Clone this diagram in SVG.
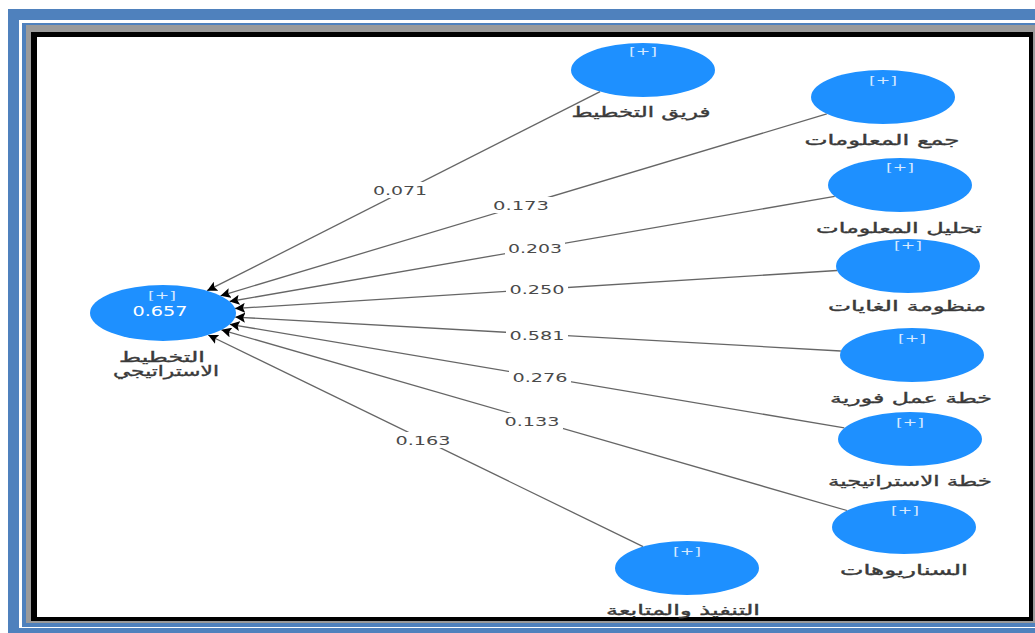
<svg xmlns="http://www.w3.org/2000/svg" width="1035" height="633" viewBox="0 0 1035 633">
<style>
.node{fill:#1e90ff}
.plus{font-family:"DejaVu Sans",sans-serif;font-size:11px;fill:#d6eaff;text-anchor:middle}
.lab{font-family:"DejaVu Sans",sans-serif;font-size:14px;fill:#3a3a3a;stroke:#3a3a3a;stroke-width:0.35;text-anchor:middle}
.val{font-family:"DejaVu Sans",sans-serif;font-size:13px;fill:#4a4a4a;text-anchor:middle}
.edge{stroke:#666;stroke-width:1.3;fill:none;marker-end:url(#arr)}
.bg{fill:#fff}
</style>
<defs>
<marker id="arr" markerUnits="userSpaceOnUse" markerWidth="12" markerHeight="10" refX="10" refY="5" orient="auto">
<path d="M0,0 L10,5 L0,10 L2,5 Z" fill="#000"/>
</marker>
</defs>
<g id="frame">
<rect x="8" y="9" width="1040" height="640" fill="#4f81bd"/>
<rect x="19" y="20" width="1030" height="608" fill="#fff"/>
<rect x="22" y="23" width="1030" height="604" fill="#4f81bd"/>
<rect x="26" y="25" width="1030" height="598" fill="#9a9a9a"/>
<rect x="31" y="32" width="1002" height="589" fill="#000"/>
<rect x="37" y="37" width="992" height="580" fill="#fff"/>
</g>
<g id="connectors">
<line class="edge" x1="600.1" y1="91.7" x2="207.1" y2="290.7"/>
<line class="edge" x1="826.8" y1="113.9" x2="220.5" y2="295.8"/>
<line class="edge" x1="834.7" y1="196.4" x2="229.5" y2="301.5"/>
<line class="edge" x1="837.0" y1="270.5" x2="235.0" y2="308.5"/>
<line class="edge" x1="840.8" y1="351.0" x2="235.2" y2="317.1"/>
<line class="edge" x1="844.3" y1="427.9" x2="229.8" y2="324.3"/>
<line class="edge" x1="847.0" y1="510.5" x2="221.3" y2="329.8"/>
<line class="edge" x1="643.1" y1="546.6" x2="208.2" y2="335.0"/>
<rect class="bg" x="371" y="182" width="60" height="16"/>
<text class="val" x="400" y="195" textLength="54" lengthAdjust="spacingAndGlyphs">0.071</text>
<rect class="bg" x="491" y="197" width="61" height="16"/>
<text class="val" x="521" y="210" textLength="56" lengthAdjust="spacingAndGlyphs">0.173</text>
<rect class="bg" x="505" y="240" width="60" height="16"/>
<text class="val" x="535" y="253" textLength="54" lengthAdjust="spacingAndGlyphs">0.203</text>
<rect class="bg" x="506" y="281" width="62" height="16"/>
<text class="val" x="537" y="294" textLength="55" lengthAdjust="spacingAndGlyphs">0.250</text>
<rect class="bg" x="506" y="327" width="62" height="16"/>
<text class="val" x="537" y="340" textLength="55" lengthAdjust="spacingAndGlyphs">0.581</text>
<rect class="bg" x="509" y="369" width="62" height="16"/>
<text class="val" x="540" y="382" textLength="55" lengthAdjust="spacingAndGlyphs">0.276</text>
<rect class="bg" x="501" y="413" width="62" height="16"/>
<text class="val" x="532" y="426" textLength="55" lengthAdjust="spacingAndGlyphs">0.133</text>
<rect class="bg" x="392" y="432" width="62" height="16"/>
<text class="val" x="423" y="445" textLength="55" lengthAdjust="spacingAndGlyphs">0.163</text>
</g>
<g id="n-main">
<ellipse class="node" cx="163" cy="313" rx="73" ry="28"/>
<text class="plus" x="162" y="299" textLength="28" lengthAdjust="spacingAndGlyphs">[+]</text>
<text x="160" y="316" font-family="DejaVu Sans,sans-serif" font-size="14" fill="#fff" text-anchor="middle" textLength="55" lengthAdjust="spacingAndGlyphs">0.657</text>
<text class="lab" x="162" y="362" textLength="86" lengthAdjust="spacingAndGlyphs">التخطيط</text>
<text class="lab" x="166" y="376" textLength="106" lengthAdjust="spacingAndGlyphs">الاستراتيجي</text>
</g>
<g id="n1">
<ellipse class="node" cx="643" cy="70" rx="72" ry="27"/>
<text class="plus" x="643" y="55" textLength="28" lengthAdjust="spacingAndGlyphs">[+]</text>
<text class="lab" x="641" y="117" textLength="139" lengthAdjust="spacingAndGlyphs">فريق التخطيط</text>
</g>
<g id="n2">
<ellipse class="node" cx="883" cy="97" rx="72" ry="27"/>
<text class="plus" x="883" y="84" textLength="28" lengthAdjust="spacingAndGlyphs">[+]</text>
<text class="lab" x="882" y="145" textLength="155" lengthAdjust="spacingAndGlyphs">جمع المعلومات</text>
</g>
<g id="n3">
<ellipse class="node" cx="900" cy="185" rx="72" ry="27"/>
<text class="plus" x="900" y="171" textLength="28" lengthAdjust="spacingAndGlyphs">[+]</text>
<text class="lab" x="899" y="233" textLength="166" lengthAdjust="spacingAndGlyphs">تحليل المعلومات</text>
</g>
<g id="n4">
<ellipse class="node" cx="908" cy="266" rx="72" ry="27"/>
<text class="plus" x="908" y="249" textLength="28" lengthAdjust="spacingAndGlyphs">[+]</text>
<text class="lab" x="907" y="311" textLength="158" lengthAdjust="spacingAndGlyphs">منظومة الغايات</text>
</g>
<g id="n5">
<ellipse class="node" cx="912" cy="355" rx="72" ry="27"/>
<text class="plus" x="912" y="342" textLength="28" lengthAdjust="spacingAndGlyphs">[+]</text>
<text class="lab" x="911" y="403" textLength="162" lengthAdjust="spacingAndGlyphs">خطة عمل فورية</text>
</g>
<g id="n6">
<ellipse class="node" cx="910" cy="439" rx="72" ry="27"/>
<text class="plus" x="910" y="426" textLength="28" lengthAdjust="spacingAndGlyphs">[+]</text>
<text class="lab" x="910" y="486" textLength="164" lengthAdjust="spacingAndGlyphs">خطة الاستراتيجية</text>
</g>
<g id="n7">
<ellipse class="node" cx="904" cy="527" rx="72" ry="27"/>
<text class="plus" x="905" y="514" textLength="28" lengthAdjust="spacingAndGlyphs">[+]</text>
<text class="lab" x="904" y="575" textLength="128" lengthAdjust="spacingAndGlyphs">السناريوهات</text>
</g>
<g id="n8">
<ellipse class="node" cx="687" cy="568" rx="72" ry="27"/>
<text class="plus" x="687" y="555" textLength="28" lengthAdjust="spacingAndGlyphs">[+]</text>
<text class="lab" x="683" y="615" textLength="154" lengthAdjust="spacingAndGlyphs">التنفيذ والمتابعة</text>
</g>
</svg>
